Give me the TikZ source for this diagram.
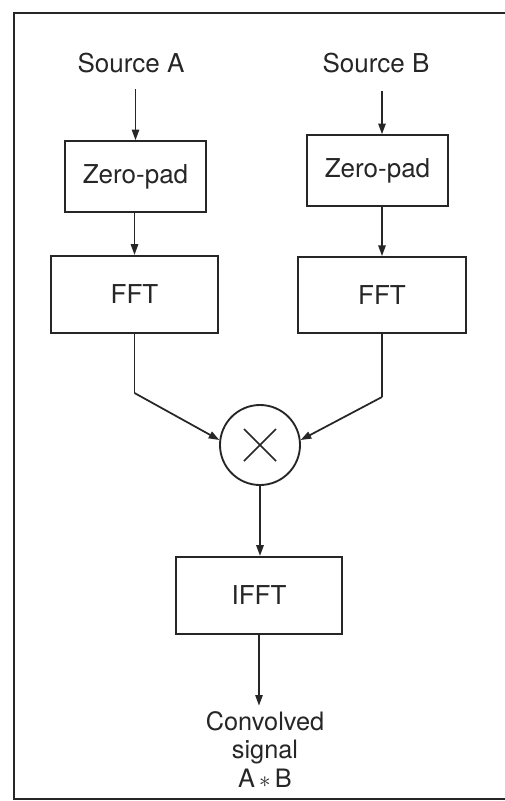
\documentclass[tikz,border=0pt]{standalone}
\usepackage{fontspec}
\setmainfont{TeX Gyre Heros}
\usetikzlibrary{arrows.meta}
\definecolor{ink}{HTML}{262626}
\begin{document}
\begin{tikzpicture}[x=0.75pt,y=-0.75pt,
  every node/.style={text=ink,font=\fontsize{19.5}{19.5}\selectfont},
  blk/.style={draw=ink,line width=1.4pt,inner sep=0pt},
  lbl/.style={inner sep=0pt},
  flow/.style={draw=ink,line width=1.3pt,-{Triangle[length=8pt,width=5.5pt]}},
  wire/.style={draw=ink,line width=1.3pt}]
\useasboundingbox (0,0) rectangle (505,801);
\fill[white] (0,0) rectangle (505,801);
% outer frame (open on the right)
\draw[ink,line width=1.5pt] (505,13) -- (14,13) -- (14,799) -- (505,799);

% inputs
\node[lbl,anchor=base] (srcA) at (131,72.5) {Source A};
\node[lbl,anchor=base] (srcB) at (376,72) {Source B};

% processing blocks
\node[blk,minimum width=106pt,minimum height=53pt] (zpA) at (135.5,176.5) {Zero-pad};
\node[blk,minimum width=106pt,minimum height=53pt] (zpB) at (377.5,170.5) {Zero-pad};
\node[blk,minimum width=125pt,minimum height=58pt] (fftA) at (134.5,294.5) {FFT};
\node[blk,minimum width=126pt,minimum height=57pt] (fftB) at (382,295) {FFT};
\node[draw=ink,line width=1.4pt,circle,minimum size=60pt,inner sep=0pt] (mul) at (260,445) {};
\node[blk,minimum width=124.5pt,minimum height=58pt] (ifft) at (259,595.5) {IFFT};
\node[lbl,anchor=north,align=center,font=\fontsize{19}{21.5}\selectfont] (out) at (265,711) {Convolved\\signal\\A\,$*$\,B};

% multiplier sign
\draw[ink,line width=1.3pt] (mul.center) ++(-16,-16) -- ++(32,32);
\draw[ink,line width=1.3pt] (mul.center) ++(-16,16) -- ++(32,-32);

% bends of the two spectral paths
\coordinate (bendA) at (134.5,393);
\coordinate (bendB) at (382,397);

% connectors
\draw[flow,shorten <=12pt] (zpA.north |- srcA.south) -- (zpA.north);
\draw[flow,shorten <=14pt] (fftB.north |- srcB.south) -- (fftB.north |- zpB.north);
\draw[flow] (fftA.north |- zpA.south) -- (fftA.north);
\draw[flow] (fftB.north |- zpB.south) -- (fftB.north);
\draw[wire] (fftA.south) -- (bendA);
\draw[flow] (bendA) -- (mul.173);
\draw[wire] (fftB.south) -- (bendB);
\draw[flow] (bendB) -- (mul.7);
\draw[flow] (mul.south) -- (mul.south |- ifft.north);
\draw[flow,shorten >=4pt] (ifft.south) -- (ifft.south |- out.north);
\end{tikzpicture}
\end{document}
